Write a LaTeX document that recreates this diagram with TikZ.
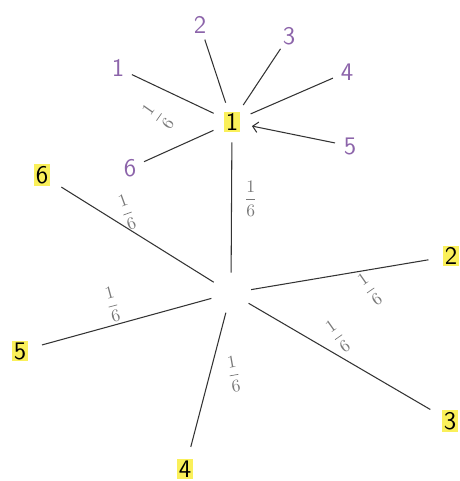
\documentclass[tikz,border=0pt]{standalone}
\usetikzlibrary{arrows.meta}
\definecolor{inkpurple}{RGB}{140,100,170}
\definecolor{hlyellow}{RGB}{250,240,90}
\definecolor{pencil}{RGB}{120,120,120}
\newcommand{\hl}[1]{{\setlength{\fboxsep}{1pt}\colorbox{hlyellow}{#1}}}
\newcommand{\sixth}{$\displaystyle\frac{1}{6}$}
\tikzset{
  branch/.style={draw=black!80, line width=0.6pt},
  hub/.style={circle, minimum size=0.8cm, inner sep=0pt},
  leaf/.style={circle, minimum size=0.9cm, inner sep=0pt, font=\sffamily\Large},
  kid/.style={circle, minimum size=0.6cm, inner sep=0pt, font=\sffamily\Large, text=inkpurple},
  prob/.style={font=\normalsize, text=pencil, inner sep=2pt}
}
\begin{document}
\begin{tikzpicture}[x=0.02cm, y=-0.02cm]
        \useasboundingbox (0,0) rectangle (460,481);

        % first throw
        \node[hub] (root) at (231,293) {};
        \node[hub, font=\sffamily\Large] (top) at (232,122) {\hl{1}};
        \node[leaf] (l2) at (451,256) {\hl{2}};
        \node[leaf] (l3) at (450,421) {\hl{3}};
        \node[leaf] (l4) at (185,469) {\hl{4}};
        \node[leaf] (l5) at (20,351) {\hl{5}};
        \node[leaf] (l6) at (42,175) {\hl{6}};

        \draw[branch] (root) -- node[prob, right=5pt, pos=0.57] {\sixth} (top);
        \draw[branch] (root) -- node[prob, below, rotate=35, pos=0.6] {\sixth} (l2);
        \draw[branch] (root) -- node[prob, above=5pt, rotate=35, pos=0.56] {\sixth} (l3);
        \draw[branch] (root) -- node[prob, right=8pt, rotate=10, pos=0.47] {\sixth} (l4);
        \draw[branch] (root) -- node[prob, above=-1pt, rotate=15, pos=0.55] {\sixth} (l5);
        \draw[branch] (root) -- node[prob, above, rotate=20, pos=0.52] {\sixth} (l6);

        % second throw after a 1
        \foreach \n/\x/\y in {1/118/68, 2/200/25, 3/289/36, 4/347/72, 6/130/168} {
                \node[kid] (k\n) at (\x,\y) {\n};
            }
        \node[kid] (k5) at (350,146) {5};

        \draw[branch] (top) -- node[prob, rotate=55, anchor=35, outer sep=8pt, pos=0.68] {\sixth} (k1);
        \foreach \n in {2,3,4,6} {
                \draw[branch] (top) -- (k\n);
            }
        \draw[branch, {Straight Barb[length=3pt]}-] (top) -- (k5);
    \end{tikzpicture}
\end{document}
